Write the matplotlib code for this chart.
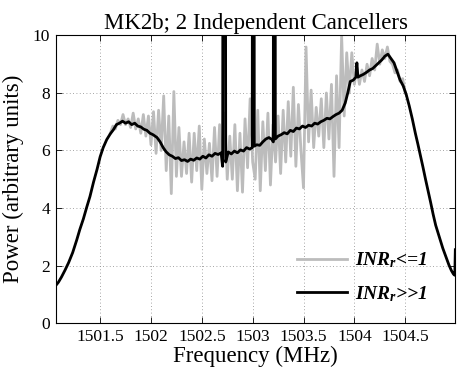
import numpy as np
import matplotlib
matplotlib.use("Agg")
import matplotlib.pyplot as plt

# ── data ────────────────────────────────────────────────────
# INR_r >> 1 (black, with three narrow RFI spikes that clip at the top)
black_freq = [
    1501.063, 1501.09, 1501.12, 1501.155, 1501.19, 1501.23, 1501.27, 1501.30,
    1501.335, 1501.37, 1501.40, 1501.435, 1501.47, 1501.50, 1501.53, 1501.565,
    1501.60, 1501.63, 1501.66, 1501.69, 1501.72, 1501.75, 1501.78, 1501.81,
    1501.84, 1501.87, 1501.90, 1501.93, 1501.96, 1501.99, 1502.02, 1502.06,
    1502.09, 1502.12, 1502.15, 1502.18, 1502.21, 1502.24, 1502.27, 1502.30,
    1502.33, 1502.36, 1502.39, 1502.42, 1502.45, 1502.48, 1502.51, 1502.54,
    1502.57, 1502.60, 1502.63, 1502.66, 1502.69, 1502.705, 1502.712, 1502.728,
    1502.735, 1502.76, 1502.79, 1502.82, 1502.85, 1502.88, 1502.91, 1502.94,
    1502.97, 1502.996, 1503.000, 1503.012, 1503.016, 1503.04, 1503.07, 1503.10,
    1503.13, 1503.16, 1503.19, 1503.203, 1503.207, 1503.219, 1503.223, 1503.25,
    1503.28, 1503.31, 1503.34, 1503.37, 1503.40, 1503.43, 1503.46, 1503.49,
    1503.52, 1503.55, 1503.58, 1503.61, 1503.64, 1503.67, 1503.70, 1503.73,
    1503.76, 1503.79, 1503.82, 1503.85, 1503.88, 1503.91, 1503.935, 1503.96,
    1503.99, 1504.015, 1504.025, 1504.035, 1504.06, 1504.09, 1504.12, 1504.15,
    1504.18, 1504.21, 1504.24, 1504.27, 1504.30, 1504.33, 1504.36, 1504.39,
    1504.42, 1504.45, 1504.48, 1504.51, 1504.54, 1504.57, 1504.60, 1504.625,
    1504.65, 1504.675, 1504.70, 1504.725, 1504.75, 1504.775, 1504.80, 1504.835,
    1504.87, 1504.90, 1504.93, 1504.955, 1504.975, 1504.988, 1504.993,
]
black_power = [
    1.30, 1.42, 1.60, 1.84, 2.10, 2.45, 2.89, 3.25,
    3.62, 4.05, 4.40, 4.90, 5.35, 5.78, 6.10, 6.38,
    6.58, 6.72, 6.90, 6.95, 7.02, 6.95, 7.00, 6.90,
    6.95, 6.85, 6.82, 6.74, 6.70, 6.60, 6.55, 6.45,
    6.30, 6.10, 5.95, 5.85, 5.80, 5.72, 5.75, 5.65,
    5.68, 5.62, 5.70, 5.66, 5.74, 5.70, 5.80, 5.74,
    5.85, 5.80, 5.90, 5.86, 5.92, 5.45, 30.0, 30.0,
    5.60, 5.95, 5.88, 5.98, 5.92, 6.02, 5.98, 6.10,
    6.05, 6.10, 30.0, 30.0, 6.15, 6.20, 6.18, 6.30,
    6.40, 6.45, 6.38, 6.30, 30.0, 30.0, 6.40, 6.50,
    6.55, 6.62, 6.58, 6.70, 6.66, 6.78, 6.75, 6.85,
    6.80, 6.88, 6.85, 6.95, 6.92, 7.00, 7.05, 7.12,
    7.10, 7.18, 7.25, 7.30, 7.40, 7.65, 8.00, 8.40,
    8.45, 8.55, 9.05, 8.55, 8.60, 8.65, 8.72, 8.80,
    8.85, 8.95, 9.05, 9.15, 9.28, 9.35, 9.20, 9.05,
    8.75, 8.45, 8.25, 7.95, 7.55, 7.10, 6.60, 6.22,
    5.82, 5.42, 5.00, 4.60, 4.20, 3.78, 3.40, 3.00,
    2.60, 2.31, 2.02, 1.82, 1.70, 1.66, 2.55,
]

# INR_r <= 1 (grey), sampled every 25 kHz from 1501.600 to 1504.500 MHz
gray_start, gray_stop = 1501.600, 1504.500
gray_power = [
    6.60, 6.85, 6.75, 7.05, 6.90, 7.25, 6.90, 7.10, 6.80, 7.30,
    6.75, 7.10, 6.60, 7.25, 6.50, 7.20, 6.20, 7.35, 5.90, 7.40,
    6.00, 7.90, 5.30, 7.20, 4.50, 8.05, 5.10, 6.80, 5.10, 6.30,
    5.20, 6.60, 4.90, 6.60, 5.30, 6.85, 4.65, 6.40, 5.20, 6.25,
    4.95, 6.80, 5.10, 6.90, 5.50, 7.30, 5.00, 6.50, 5.00, 6.90,
    4.60, 6.60, 4.55, 7.10, 5.40, 7.80, 5.60, 5.00, 7.40, 4.60,
    7.00, 5.30, 7.30, 4.80, 6.90, 5.60, 7.20, 5.20, 7.40, 5.60,
    7.70, 5.80, 8.20, 5.45, 7.60, 6.00, 4.70, 9.60, 6.30, 8.10,
    6.10, 7.50, 6.50, 7.80, 6.10, 8.00, 6.40, 8.30, 5.10, 8.60,
    6.10, 10.0, 7.20, 9.40, 8.00, 9.40, 8.30, 8.90, 8.30, 8.80,
    8.40, 9.00, 8.60, 9.20, 8.80, 9.70, 9.00, 9.50, 9.20, 9.60,
    9.10, 9.00, 8.70, 8.80, 8.40, 8.50, 8.00,
]
gray_freq = np.linspace(gray_start, gray_stop, len(gray_power))

x_ticks = [1501.5, 1502, 1502.5, 1503, 1503.5, 1504, 1504.5]
x_ticklabels = ["1501.5", "1502", "1502.5", "1503", "1503.5", "1504", "1504.5"]
y_ticks = [0, 2, 4, 6, 8, 10]

labels = [r"$INR_r$<=1", r"$INR_r$>>1"]

# ── style ───────────────────────────────────────────────────
plt.rcParams.update({
    "font.family": ["Liberation Serif", "DejaVu Serif"],
    "mathtext.fontset": "custom",
    "mathtext.it": "Liberation Serif:italic:bold",
    "mathtext.rm": "Liberation Serif:bold",
    "xtick.direction": "in",
    "ytick.direction": "in",
    "xtick.top": True,
    "ytick.right": True,
})

fig = plt.figure(figsize=(4.63, 3.72), dpi=100)
ax = fig.add_axes([0.1203, 0.1317, 0.8631, 0.7729])

ax.plot(gray_freq, gray_power, color="#bcbcbc", linewidth=2.0, label=labels[0])
ax.plot(black_freq, black_power, color="black", linewidth=2.0, label=labels[1])

ax.set_xlim(1501.063, 1504.993)
ax.set_ylim(0, 10)
ax.set_xticks(x_ticks)
ax.set_xticklabels(x_ticklabels)
ax.set_yticks(y_ticks)
ax.tick_params(labelsize=12.5, length=4, width=0.6, pad=4)
ax.grid(True, linestyle=(0, (1, 3)), color="#888888", linewidth=0.6)
for s in ax.spines.values():
    s.set_linewidth(0.8)

ax.set_title("MK2b; 2 Independent Cancellers", fontsize=16.5, pad=5)
ax.set_xlabel("Frequency (MHz)", fontsize=16.5, labelpad=1)
ax.set_ylabel("Power (arbitrary units)", fontsize=16.5, labelpad=6)

leg = ax.legend(loc="upper left", bbox_to_anchor=(0.603, 0.252), frameon=False,
                handlelength=2.6, handletextpad=0.4, borderpad=0,
                borderaxespad=0, labelspacing=0.7,
                prop={"family": "Liberation Serif", "weight": "bold",
                      "style": "italic", "size": 14})

fig.savefig("out.png", dpi=100)
